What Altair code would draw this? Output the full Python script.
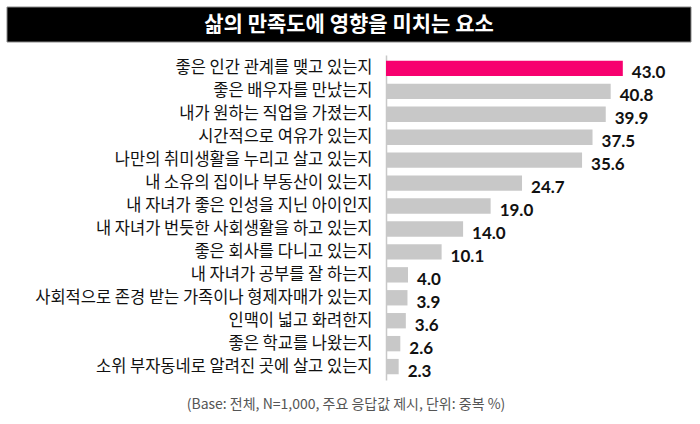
import altair as alt
import pandas as pd

categories = [
    "좋은 인간 관계를 맺고 있는지",
    "좋은 배우자를 만났는지",
    "내가 원하는 직업을 가졌는지",
    "시간적으로 여유가 있는지",
    "나만의 취미생활을 누리고 살고 있는지",
    "내 소유의 집이나 부동산이 있는지",
    "내 자녀가 좋은 인성을 지닌 아이인지",
    "내 자녀가 번듯한 사회생활을 하고 있는지",
    "좋은 회사를 다니고 있는지",
    "내 자녀가 공부를 잘 하는지",
    "사회적으로 존경 받는 가족이나 형제자매가 있는지",
    "인맥이 넓고 화려한지",
    "좋은 학교를 나왔는지",
    "소위 부자동네로 알려진 곳에 살고 있는지",
]
values = [43.0, 40.8, 39.9, 37.5, 35.6, 24.7, 19.0, 14.0, 10.1, 4.0, 3.9, 3.6, 2.6, 2.3]
highlight = [True] + [False] * 13

title_text = "삶의 만족도에 영향을 미치는 요소"
footnote = "(Base: 전체, N=1,000,  주요 응답값 제시, 단위: 중복 %)"

df = pd.DataFrame({"cat": categories, "val": values, "hl": highlight})
df["label"] = [f"{v:.1f}" for v in values]

W, H = 304, 325
PL, PT = 386, 55
KR = "Noto Sans CJK KR"

y_enc = alt.Y(
    "cat:N", sort=categories, title=None,
    scale=alt.Scale(paddingInner=0.33, paddingOuter=0.25),
    axis=alt.Axis(
        ticks=False, domain=True, domainColor="#c8c8c8", domainWidth=1.5,
        labelFont=KR, labelFontSize=16.5, labelColor="#111111",
        labelPadding=14, labelLimit=400,
    ),
)
x_scale = alt.Scale(domain=[0, 55.2], nice=False)

base = alt.Chart(df)

bars = base.mark_bar().encode(
    x=alt.X("val:Q", scale=x_scale, axis=None),
    y=y_enc,
    color=alt.Color(
        "hl:N", scale=alt.Scale(domain=[True, False], range=["#F7006F", "#C8C8C8"]),
        legend=None,
    ),
)

labels = base.mark_text(
    align="left", baseline="middle", dx=9, dy=5,
    font="Lato", fontWeight="bold", fontSize=17, color="#111111",
).encode(
    x=alt.X("val:Q", scale=x_scale, axis=None),
    y=alt.Y("cat:N", sort=categories),
    text="label:N",
)

banner = alt.Chart(pd.DataFrame({"t": [title_text]})).mark_rect(
    color="#000000", stroke="#888888", strokeWidth=1, clip=False
).encode(
    x=alt.value(7 - PL), x2=alt.value(691 - PL),
    y=alt.value(7 - PT), y2=alt.value(42 - PT),
)

title_mark = alt.Chart(pd.DataFrame({"t": [title_text]})).mark_text(
    font=KR, fontWeight="bold", fontSize=21, color="white",
    align="center", baseline="middle",
).encode(
    x=alt.value(349 - PL), y=alt.value(25 - PT), text="t:N",
)

foot_mark = alt.Chart(pd.DataFrame({"t": [footnote]})).mark_text(
    font=KR, fontSize=14, color="#555555", align="center", baseline="middle",
).encode(
    x=alt.value(346 - PL), y=alt.value(405 - PT), text="t:N",
)

chart = alt.layer(banner, title_mark, bars, labels, foot_mark).resolve_scale(
    color="independent"
).properties(
    width=W, height=H,
    autosize=alt.AutoSizeParams(type="none"),
    padding={"left": PL, "top": PT, "right": 700 - PL - W, "bottom": 424 - PT - H},
    background="white",
).configure_view(stroke=None)

chart.save("out.html", embed_options={"renderer": "svg", "actions": False})
